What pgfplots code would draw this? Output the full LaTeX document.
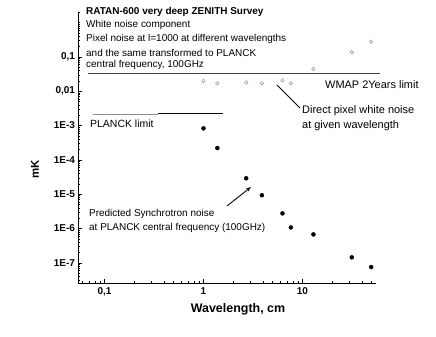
\documentclass[border=0pt]{standalone}
\usepackage{fontspec}
\setmainfont{Liberation Sans}
\usepackage{pgfplots}
\pgfplotsset{compat=1.18}
\usetikzlibrary{arrows.meta}

\begin{document}
\begin{tikzpicture}
\useasboundingbox (0,0) rectangle (436bp,337bp);
\begin{axis}[
  at={(78.5bp,54bp)}, anchor=south west,
  scale only axis, width=297.5bp, height=271bp,
  xmode=log, ymode=log,
  xmin=0.0546, xmax=55.3,
  ymin=2.57e-8, ymax=2.04,
  clip=false,
  axis lines=left,
  axis line style={-, line width=0.7pt},
  tick align=inside,
  major tick length=4bp, minor tick length=2bp,
  tick style={line width=0.5pt, black},
  xtick={0.1,1,10}, xticklabels={{0,1},1,10},
  minor xtick={0.06,0.07,0.08,0.09,0.2,0.3,0.4,0.5,0.6,0.7,0.8,0.9,2,3,4,5,6,7,8,9,20,30,40,50},
  ytick={1e-7,1e-6,1e-5,1e-4,1e-3,1e-2,1e-1},
  yticklabels={1E-7,1E-6,1E-5,1E-4,1E-3,{0,01},{0,1}},
  minor ytick={3e-8,4e-8,5e-8,6e-8,7e-8,8e-8,9e-8,
    2e-7,3e-7,4e-7,5e-7,6e-7,7e-7,8e-7,9e-7,
    2e-6,3e-6,4e-6,5e-6,6e-6,7e-6,8e-6,9e-6,
    2e-5,3e-5,4e-5,5e-5,6e-5,7e-5,8e-5,9e-5,
    2e-4,3e-4,4e-4,5e-4,6e-4,7e-4,8e-4,9e-4,
    2e-3,3e-3,4e-3,5e-3,6e-3,7e-3,8e-3,9e-3,
    2e-2,3e-2,4e-2,5e-2,6e-2,7e-2,8e-2,9e-2,
    0.2,0.3,0.4,0.5,0.6,0.7,0.8,0.9,1,2},
  /pgf/number format/assume math mode=true,
  tick label style={font=\bfseries\fontsize{10}{12}\selectfont},
  xticklabel style={yshift=-1bp},
]
% WMAP 2 years limit
\addplot[black!75, line width=0.8pt] coordinates {(0.068,0.034)(60,0.034)};
% PLANCK limit
\addplot[black!45, line width=0.6pt] coordinates {(0.0766,2.15e-3)(0.347,2.15e-3)};
\addplot[black, line width=1.1pt] coordinates {(0.347,2.2e-3)(1.57,2.2e-3)};
% Direct pixel white noise
\addplot[only marks, mark=o, mark size=1.8bp, mark options={draw=black!45, line width=0.5pt}]
  coordinates {(1.0,0.020)(1.38,0.017)(2.7,0.018)(3.89,0.017)(6.28,0.021)
    (7.63,0.017)(12.9,0.044)(31.5,0.136)(49.4,0.28)};
% Predicted synchrotron noise at 100GHz
\addplot[only marks, mark=*, mark size=2bp, mark options={fill=black, draw=black}]
  coordinates {(1.0,8.3e-4)(1.38,2.2e-4)(2.7,2.9e-5)(3.89,9.3e-6)(6.28,2.75e-6)
    (7.63,1.07e-6)(12.9,6.7e-7)(31.5,1.44e-7)(49.4,7.5e-8)};
\end{axis}
% title block
\begin{scope}[every node/.style={anchor=west, inner sep=0pt, font=\fontsize{10}{12}\selectfont}]
\node at (86bp,325bp) {\bfseries RATAN-600 very deep ZENITH Survey};
\node at (86bp,312bp) {White noise component};
\node at (86bp,298bp) {Pixel noise at l=1000 at different wavelengths};
\node at (86bp,284.5bp) {and the same transformed to PLANCK};
\node at (86bp,272bp) {central frequency, 100GHz};
\end{scope}
\begin{scope}[every node/.style={anchor=west, inner sep=0pt, font=\fontsize{11}{13}\selectfont}]
\node at (325bp,252bp) {WMAP 2Years limit};
\node at (302bp,226bp) {Direct pixel white noise};
\node at (302bp,211bp) {at given wavelength};
\node[font=\fontsize{10.5}{12}\selectfont] at (90bp,213bp) {PLANCK limit};
\end{scope}
\begin{scope}[every node/.style={anchor=west, inner sep=0pt, font=\fontsize{10}{12}\selectfont}]
\node at (89bp,123bp) {Predicted Synchrotron noise};
\node at (89bp,109bp) {at PLANCK central frequency (100GHz)};
\end{scope}
\draw[line width=0.9pt] (277bp,252bp) -- (300bp,229bp);
\draw[line width=0.9pt, -{Stealth[length=5bp,width=3.5bp]}] (227bp,131bp) -- (251bp,150bp);
\node[font=\bfseries\fontsize{12.5}{14}\selectfont] at (238bp,28bp) {Wavelength, cm};
\node[font=\bfseries\fontsize{11.5}{13}\selectfont, rotate=90] at (35bp,168bp) {mK};
\end{tikzpicture}
\end{document}
